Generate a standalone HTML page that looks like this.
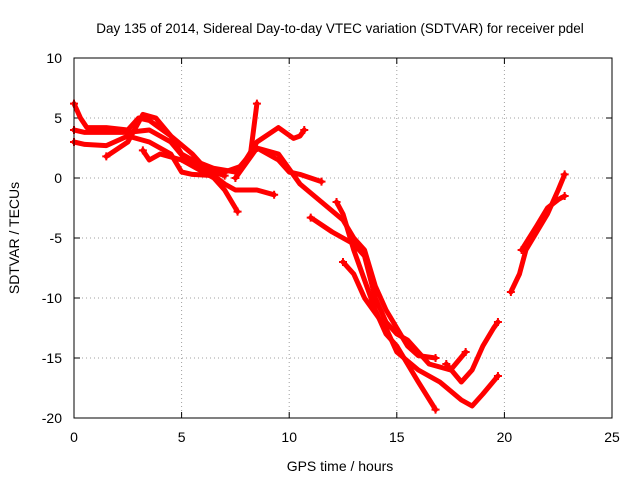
<!DOCTYPE html>
<html><head><meta charset="utf-8"><style>
body{margin:0;background:#fff;}
svg{display:block;font-family:"Liberation Sans",sans-serif;}
</style></head><body>
<svg id="chart" width="640" height="480">
<text x="340" y="33" font-size="13.5" text-anchor="middle">Day 135 of 2014, Sidereal Day-to-day VTEC variation (SDTVAR) for receiver pdel</text>
<text x="340" y="471" font-size="14" text-anchor="middle">GPS time / hours</text>
<text transform="translate(19,238) rotate(-90)" font-size="14" text-anchor="middle">SDTVAR / TECUs</text>
<g id="grid"></g><g id="ticks"></g><g id="series"></g>
<rect x="74" y="58" width="538" height="360" fill="none" stroke="#000" stroke-width="1"/>
</svg>
<script>
const xTicks=[0,5,10,15,20,25];
const yTicks=[10,5,0,-5,-10,-15,-20];
const traces=[
[[0,6.2],[0.3,5],[0.6,4.2],[1.5,4.2],[2.5,4],[3,5],[3.5,4.8],[4.5,3.5],[5,2],[5.5,1.5],[6.5,0.8],[7.5,0.5],[8.2,2],[8.5,6.2]],
[[0,3],[0.5,2.8],[1.5,2.7],[2.5,3.5],[3.5,3],[4.5,2],[5,0.5],[5.5,0.3],[6.5,0.2],[7,-0.5],[7.5,-1],[8.5,-1],[9.3,-1.4]],
[[0,4],[0.5,3.8],[1.5,3.8],[2.5,3.8],[3.5,4],[4.5,3],[5.2,1.5],[6,0.8],[7,0.2]],
[[1.5,1.8],[2.5,3],[3.2,5.3],[3.8,5],[4.5,3.5],[5.5,2],[6,1],[7,0.5],[7.8,1],[8.5,3],[9.5,4.2],[10.2,3.3],[10.5,3.5],[10.7,4]],
[[3.2,2.3],[3.5,1.5],[4,2],[5,1.5],[5.5,1],[6.5,0],[7,-1],[7.6,-2.8]],
[[7.5,0],[8.5,2.5],[9.5,1.5],[10,0.5],[10.5,0.3],[11.5,-0.3]],
[[11,-3.3],[12,-4.5],[13,-5.5],[13.5,-6.5],[14,-10],[14.5,-12],[15,-13],[15.5,-13.5],[16.5,-15.5],[17.5,-16],[18.2,-14.5]],
[[8.5,2.5],[9.5,2],[10.5,-0.5],[11.5,-2],[12.5,-3.5],[13,-5],[13.5,-6],[14,-9],[14.5,-11],[15.5,-14],[16,-14.8],[16.8,-15]],
[[12.2,-2],[12.5,-3],[13,-6],[13.5,-8.5],[14,-11],[14.5,-13],[15,-14],[16,-17],[16.8,-19.3]],
[[12.5,-7],[13,-8],[13.5,-10],[14.5,-12.5],[15,-14.5],[16,-16],[17,-17],[18,-18.5],[18.5,-19],[19,-18],[19.7,-16.5]],
[[17.3,-15.5],[18,-17],[18.5,-16],[19,-14],[19.5,-12.5],[19.7,-12]],
[[20.3,-9.5],[20.7,-8],[21,-6],[21.5,-4.5],[22,-3],[22.5,-1],[22.8,0.3]],
[[20.8,-6],[21.5,-4],[22,-2.5],[22.5,-1.8],[22.8,-1.5]]
];
const NS="http://www.w3.org/2000/svg";
const X=v=>74+v*538/25, Y=v=>58+(10-v)*12;
const g=document.getElementById('grid'),t=document.getElementById('ticks'),s=document.getElementById('series');
function mk(tag,at,par){const e=document.createElementNS(NS,tag);for(const k in at)e.setAttribute(k,at[k]);par.appendChild(e);return e;}
xTicks.forEach(v=>{
 if(v>0&&v<25){const l=mk('line',{x1:X(v),x2:X(v),y1:58,y2:418,stroke:'#a0a0a0','stroke-dasharray':'1,3'},g);
 
 }
 mk('line',{x1:X(v),x2:X(v),y1:418,y2:412,stroke:'#000'},t);
 mk('line',{x1:X(v),x2:X(v),y1:58,y2:64,stroke:'#000'},t);
 const tx=mk('text',{x:X(v),y:442,'font-size':14,'text-anchor':'middle'},t);tx.textContent=v;
 
 
});
yTicks.forEach(v=>{
 if(v>-20&&v<10){const l=mk('line',{x1:74,x2:612,y1:Y(v),y2:Y(v),stroke:'#a0a0a0','stroke-dasharray':'1,3'},g);
 
 }
 mk('line',{x1:74,x2:80,y1:Y(v),y2:Y(v),stroke:'#000'},t);
 mk('line',{x1:606,x2:612,y1:Y(v),y2:Y(v),stroke:'#000'},t);
 const tx=mk('text',{x:62,y:Y(v)+5,'font-size':14,'text-anchor':'end'},t);tx.textContent=v;
 
 
});
traces.forEach(tr=>{
 const p=mk('polyline',{points:tr.map(d=>X(d[0])+','+Y(d[1])).join(' '),fill:'none',stroke:'#ff0000','stroke-width':5,'stroke-linejoin':'round','stroke-linecap':'round'},s);
 
 
 [tr[0],tr[tr.length-1]].forEach(d=>{
  mk('path',{d:`M${X(d[0])-4},${Y(d[1])}h8M${X(d[0])},${Y(d[1])-4}v8`,stroke:'#ff0000','stroke-width':2},s);
 });
});
</script>
</body></html>
